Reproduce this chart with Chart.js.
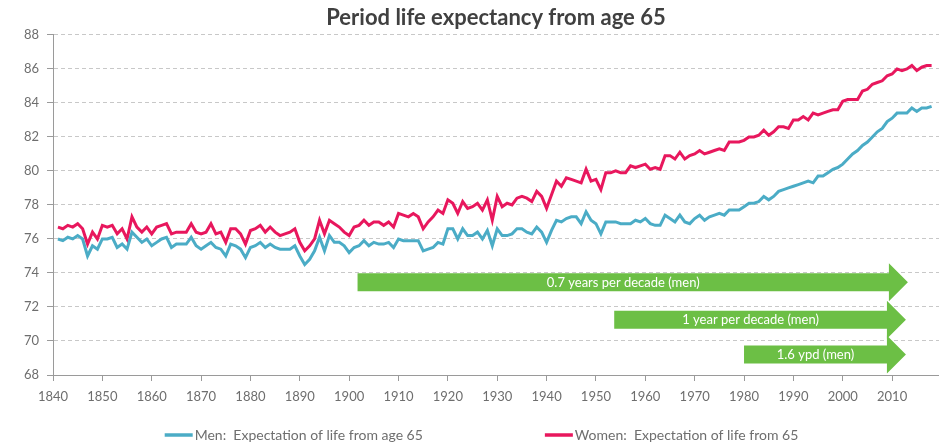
<!DOCTYPE html>
<html>
<head>
<meta charset="utf-8">
<title>Period life expectancy from age 65</title>
<script src="https://cdn.jsdelivr.net/npm/chart.js@4.4.1/dist/chart.umd.min.js"></script>
<style>
  html, body { margin: 0; padding: 0; background: #fff; }
  #wrap { width: 939px; height: 446px; }
</style>
</head>
<body>
<div id="wrap"><canvas id="lifeChart" width="939" height="446"></canvas></div>
<script>
// One value per year, 1841 to 2018
const firstYear = 1841;
const lastYear = 2018;

const menValues = [
    76.0, 75.9, 76.1, 76.0, 76.2, 76.0, 75.0, 75.6, 75.4, 76.0, 76.0, 76.1, 75.5, 75.7, 75.4, 76.4, 76.1, 75.8, 76.0, 75.6, 75.8, 76.0, 76.1, 75.5, 75.7, 75.7, 75.7, 76.1, 75.6,
    75.4, 75.6, 75.8, 75.5, 75.4, 75.0, 75.7, 75.6, 75.4, 74.9, 75.5, 75.6, 75.8, 75.5, 75.7, 75.5, 75.4, 75.4, 75.4, 75.6, 75.0, 74.5, 74.8, 75.3, 76.1, 75.3, 76.2, 75.8, 75.8, 75.6, 75.2,
    75.5, 75.6, 75.9, 75.6, 75.8, 75.7, 75.7, 75.8, 75.5, 76.0, 75.9, 75.9, 75.9, 75.9, 75.3, 75.4, 75.5, 75.8, 75.7, 76.6, 76.6, 76.0, 76.6, 76.2, 76.2, 76.4, 76.0, 76.5, 75.6, 76.6,
    76.2, 76.2, 76.3, 76.6, 76.6, 76.4, 76.3, 76.7, 76.4, 75.8, 76.5, 77.1, 77.0, 77.2, 77.3, 77.3, 76.9, 77.6, 77.1, 76.9, 76.3, 77.0, 77.0, 77.0, 76.9, 76.9, 76.9, 77.1, 77.0, 77.2,
    76.9, 76.8, 76.8, 77.4, 77.2, 77.0, 77.4, 77.0, 76.9, 77.2, 77.4, 77.1, 77.3, 77.4, 77.5, 77.4, 77.7, 77.7, 77.7, 77.9, 78.1, 78.1, 78.2, 78.5, 78.3, 78.5, 78.8, 78.9, 79.0,
    79.1, 79.2, 79.3, 79.4, 79.3, 79.7, 79.7, 79.9, 80.1, 80.2, 80.4, 80.7, 81.0, 81.2, 81.5, 81.7, 82.0, 82.3, 82.5, 82.9, 83.1, 83.4, 83.4, 83.4, 83.7, 83.5, 83.7, 83.7, 83.8
];

const womenValues = [
    76.7, 76.6, 76.8, 76.7, 76.9, 76.6, 75.7, 76.4, 76.0, 76.8, 76.7, 76.8, 76.3, 76.6, 76.0, 77.3, 76.7, 76.4, 76.7, 76.3, 76.7, 76.8, 76.9, 76.3, 76.4, 76.4, 76.4, 76.9, 76.4,
    76.3, 76.4, 76.9, 76.3, 76.4, 75.8, 76.6, 76.6, 76.3, 75.7, 76.5, 76.6, 76.8, 76.4, 76.7, 76.4, 76.2, 76.3, 76.4, 76.6, 75.8, 75.3, 75.6, 76.0, 77.1, 76.3, 77.1, 76.9, 76.7, 76.4, 76.2,
    76.7, 76.8, 77.1, 76.8, 77.0, 77.0, 76.8, 77.0, 76.7, 77.5, 77.4, 77.3, 77.5, 77.3, 76.6, 77.0, 77.3, 77.7, 77.5, 78.3, 78.1, 77.5, 78.2, 77.8, 77.9, 78.1, 77.7, 78.3, 77.1, 78.5,
    77.9, 78.1, 78.0, 78.4, 78.5, 78.4, 78.2, 78.8, 78.5, 77.8, 78.6, 79.4, 79.1, 79.6, 79.5, 79.4, 79.3, 80.1, 79.4, 79.5, 78.9, 79.9, 79.9, 80.0, 79.9, 79.9, 80.3, 80.2, 80.3, 80.4,
    80.1, 80.2, 80.1, 80.9, 80.9, 80.7, 81.1, 80.7, 80.9, 81.0, 81.2, 81.0, 81.1, 81.2, 81.3, 81.2, 81.7, 81.7, 81.7, 81.8, 82.0, 82.0, 82.1, 82.4, 82.1, 82.3, 82.6, 82.6, 82.5,
    83.0, 83.0, 83.2, 83.0, 83.4, 83.3, 83.4, 83.5, 83.6, 83.6, 84.1, 84.2, 84.2, 84.2, 84.7, 84.8, 85.1, 85.2, 85.3, 85.6, 85.7, 86.0, 85.9, 86.0, 86.2, 85.9, 86.1, 86.2, 86.2
];

const seriesLabels = ['Men:  Expectation of life from age 65', 'Women:  Expectation of life from 65'];

// Trend arrows (years on x, life expectancy on y)
const arrowLabels = ['0.7 years per decade (men)', '1 year per decade (men)', '1.6 ypd (men)'];
const arrowFrom = [1901.7, 1953.7, 1980.0];
const arrowTo = [2013.2, 2012.8, 2012.8];
const arrowLevel = [73.45, 71.25, 69.2];

const years = [];
for (let y = firstYear; y <= lastYear; y++) years.push(y);

const MEN_COLOR = '#4bacc6';
const WOMEN_COLOR = '#e8175d';
const ARROW_COLOR = '#6cbf45';
const TEXT_COLOR = '#6e6e6e';
const AXIS_COLOR = '#9a9a9a';
const FONT = 'Lato, "Open Sans", sans-serif';

function toPoints(values) {
    return years.map((yr, i) => ({ x: yr, y: values[i] }));
}

const trendArrows = {
    id: 'trendArrows',
    beforeDatasetsDraw(chart) {
        const { ctx, scales: { x, y } } = chart;
        ctx.save();
        arrowLabels.forEach((label, i) => {
            const x0 = x.getPixelForValue(arrowFrom[i]);
            const x1 = x.getPixelForValue(arrowTo[i]);
            const yc = y.getPixelForValue(arrowLevel[i]);
            const half = 9, headHalf = 19, headLen = 19;
            const xb = x1 - headLen;
            ctx.fillStyle = ARROW_COLOR;
            ctx.beginPath();
            ctx.moveTo(x0, yc - half);
            ctx.lineTo(xb, yc - half);
            ctx.lineTo(xb, yc - headHalf);
            ctx.lineTo(x1, yc);
            ctx.lineTo(xb, yc + headHalf);
            ctx.lineTo(xb, yc + half);
            ctx.lineTo(x0, yc + half);
            ctx.closePath();
            ctx.fill();

            ctx.fillStyle = '#ffffff';
            ctx.font = '13px ' + FONT;
            ctx.textAlign = 'center';
            ctx.textBaseline = 'middle';
            ctx.fillText(label, (x0 + xb) / 2, yc + 0.5);
        });
        ctx.restore();
    }
};

// Legend drawn under the axis with a wide gap between the two entries
const bottomLegend = {
    id: 'bottomLegend',
    afterDraw(chart) {
        const ctx = chart.ctx;
        const yc = chart.height - 11;
        const markLen = 28, markGap = 2, itemGap = 122;
        ctx.save();
        ctx.font = '14px ' + FONT;
        ctx.textBaseline = 'middle';
        ctx.textAlign = 'left';
        const widths = chart.data.datasets.map(ds => markLen + markGap + ctx.measureText(ds.label).width);
        const total = widths.reduce((a, b) => a + b, 0) + itemGap * (widths.length - 1);
        let xPos = chart.width / 2 + 12 - total / 2;
        chart.data.datasets.forEach((ds, i) => {
            ctx.strokeStyle = ds.borderColor;
            ctx.lineWidth = 3.5;
            ctx.beginPath();
            ctx.moveTo(xPos, yc);
            ctx.lineTo(xPos + markLen, yc);
            ctx.stroke();
            ctx.fillStyle = TEXT_COLOR;
            ctx.fillText(ds.label, xPos + markLen + markGap, yc + 0.5);
            xPos += widths[i] + itemGap;
        });
        ctx.restore();
    }
};

const ctx = document.getElementById('lifeChart').getContext('2d');
new Chart(ctx, {
    type: 'line',
    data: {
        datasets: [
            {
                label: seriesLabels[0],
                data: toPoints(menValues),
                borderColor: MEN_COLOR,
                backgroundColor: MEN_COLOR,
                borderWidth: 3,
                pointRadius: 0,
                tension: 0
            },
            {
                label: seriesLabels[1],
                data: toPoints(womenValues),
                borderColor: WOMEN_COLOR,
                backgroundColor: WOMEN_COLOR,
                borderWidth: 3,
                pointRadius: 0,
                tension: 0
            }
        ]
    },
    options: {
        responsive: false,
        animation: false,
        layout: { padding: { left: 0, right: 0, top: 0, bottom: 35 } },
        plugins: {
            legend: { display: false },
            tooltip: { enabled: false },
            title: {
                display: true,
                text: 'Period life expectancy from age 65',
                color: '#404040',
                fullSize: false,
                font: { family: FONT, size: 22, weight: 'bold' },
                padding: { top: 5, bottom: 3.5 }
            }
        },
        scales: {
            x: {
                type: 'linear',
                min: 1840,
                max: 2019.5,
                ticks: {
                    stepSize: 10,
                    includeBounds: false,
                    autoSkip: false,
                    maxRotation: 0,
                    color: TEXT_COLOR,
                    font: { family: FONT, size: 13 },
                    padding: 8,
                    callback: v => String(v)
                },
                grid: { drawOnChartArea: false, tickColor: AXIS_COLOR, tickLength: 6 },
                border: { color: AXIS_COLOR },
                afterFit(scale) { scale.height = 36; }
            },
            y: {
                min: 68,
                max: 88,
                ticks: {
                    stepSize: 2,
                    color: TEXT_COLOR,
                    font: { family: FONT, size: 13 },
                    padding: 8
                },
                grid: { color: '#c8c8c8', tickColor: AXIS_COLOR, tickLength: 6 },
                border: { color: AXIS_COLOR, dash: [4, 3] },
                afterFit(scale) { scale.width = 53; }
            }
        }
    },
    plugins: [trendArrows, bottomLegend]
});
</script>
</body>
</html>
